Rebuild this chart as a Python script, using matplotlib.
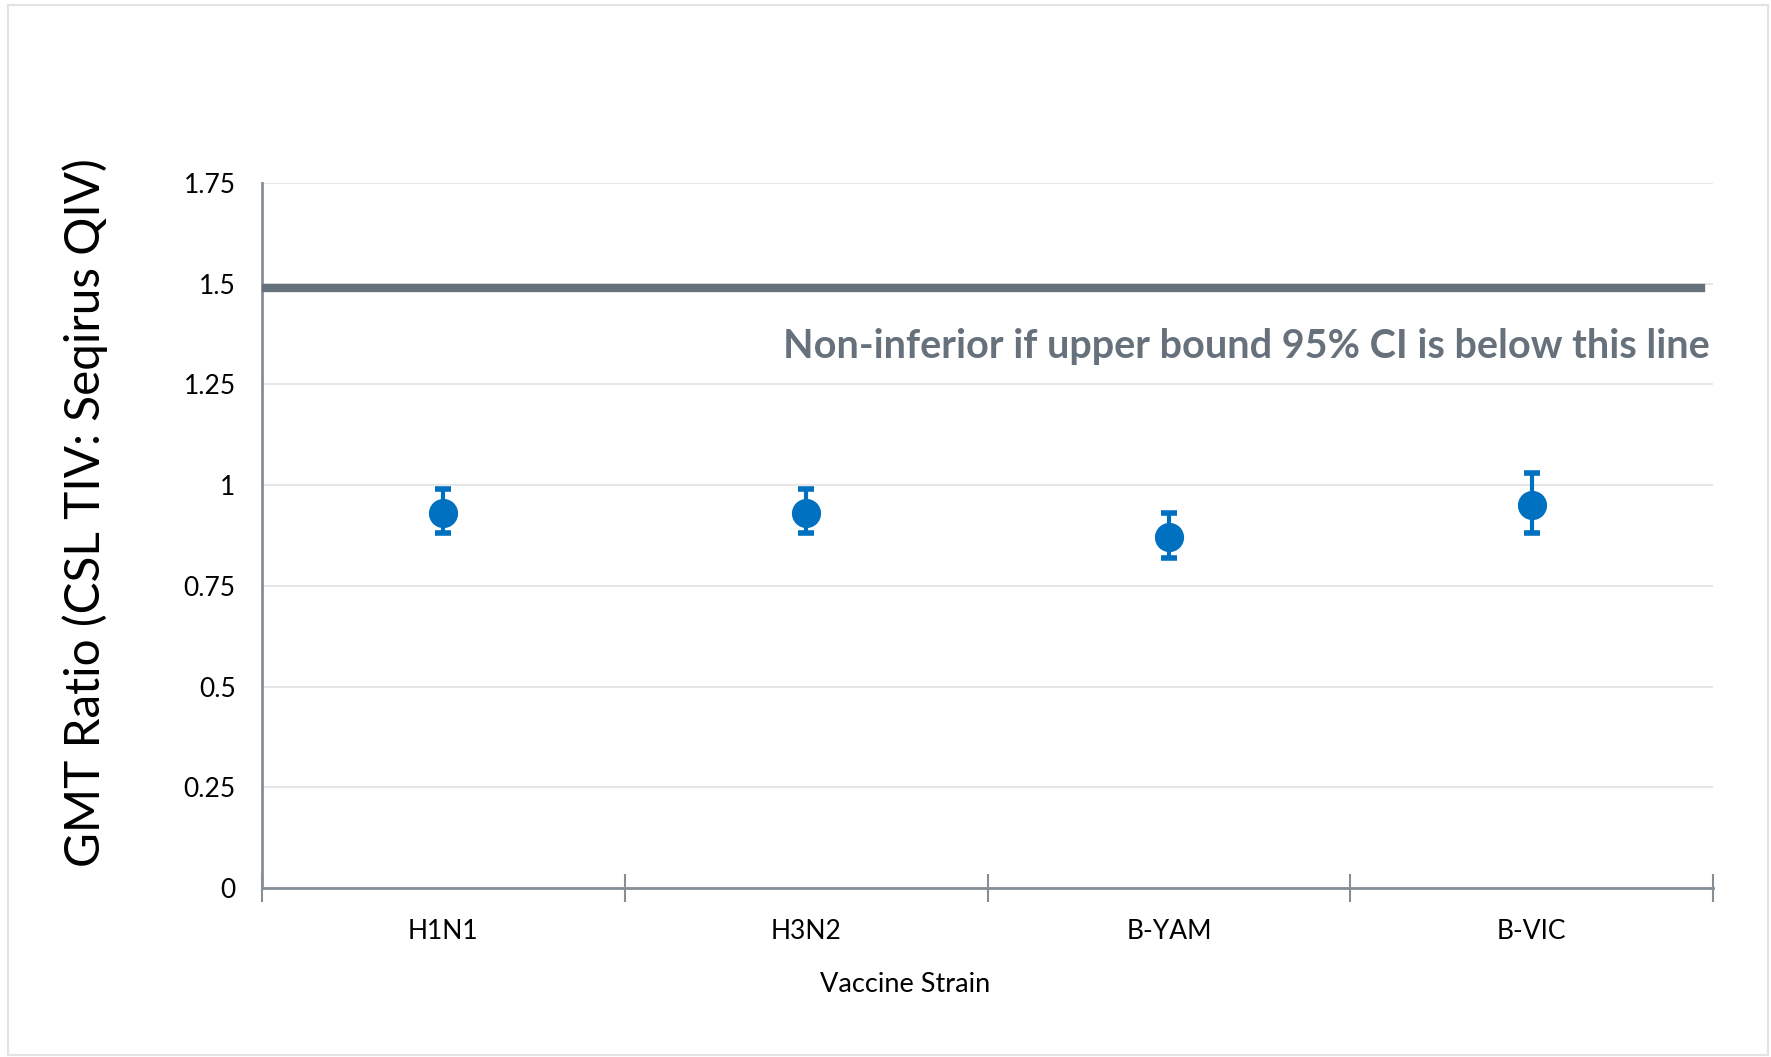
import numpy as np
import matplotlib.pyplot as plt
from matplotlib.patches import Rectangle

# GMT ratio (CSL TIV : Seqirus QIV) with 95% CI per vaccine strain
strains = ['H1N1', 'H3N2', 'B-YAM', 'B-VIC']
gmt_ratio = [0.93, 0.93, 0.87, 0.95]
ci_lower = [0.88, 0.88, 0.82, 0.88]
ci_upper = [0.99, 0.99, 0.93, 1.03]
margin = 1.49
yticks = [0, 0.25, 0.5, 0.75, 1, 1.25, 1.5, 1.75]
ytick_labels = ['0', '0.25', '0.5', '0.75', '1', '1.25', '1.5', '1.75']

plt.rcParams['font.family'] = ['Lato', 'DejaVu Sans']

fig = plt.figure(figsize=(17.71, 10.57), dpi=100)
fig.patches.append(Rectangle((8 / 1771, 2 / 1057), 1760 / 1771, 1050 / 1057,
                             transform=fig.transFigure, fill=False,
                             edgecolor='#e3e3e3', linewidth=1.5))
ax = fig.add_axes([0.1479, 0.1599, 0.8194, 0.6670])

x = np.arange(len(strains)) + 0.5
y = np.array(gmt_ratio)
yerr = [y - np.array(ci_lower), np.array(ci_upper) - y]
ax.errorbar(x, y, yerr=yerr, fmt='o', color='#0070C0', ms=20, elinewidth=3,
            capsize=5.5, capthick=4, zorder=4)

ax.axhline(margin, xmin=0, xmax=0.992, color='#67717b', linewidth=6, zorder=3)
ax.text(3.99, 1.345, 'Non-inferior if upper bound 95% CI is below this line',
        ha='right', va='center', fontsize=28.5, fontweight='bold', color='#67717b')

ax.set_xlim(0, 4)
ax.set_ylim(0, 1.75)
ax.set_yticks(yticks)
ax.set_yticklabels(ytick_labels)
ax.tick_params(axis='y', length=0, pad=19, labelsize=19)
ax.set_xticks(np.arange(0, 5))
ax.set_xticklabels([])
ax.set_xticks(x, minor=True)
ax.set_xticklabels(strains, minor=True)
ax.tick_params(axis='x', which='major', direction='inout', length=20,
               width=1.5, color='#868e96')
ax.tick_params(axis='x', which='minor', length=0, pad=22, labelsize=19)
ax.grid(axis='y', color='#e2e2e2', linewidth=1.2)
ax.set_axisbelow(True)
for side in ['top', 'right']:
    ax.spines[side].set_visible(False)
for side in ['left', 'bottom']:
    ax.spines[side].set_color('#868e96')
    ax.spines[side].set_linewidth(2)

fig.text(905 / 1771, 1 - 985 / 1057, 'Vaccine Strain', ha='center', va='center',
         fontsize=19.5)
fig.text(85 / 1771, 1 - 513 / 1057, 'GMT Ratio (CSL TIV: Seqirus QIV)',
         ha='center', va='center', rotation=90, fontsize=34.3)

fig.savefig('out.png', dpi=100)
